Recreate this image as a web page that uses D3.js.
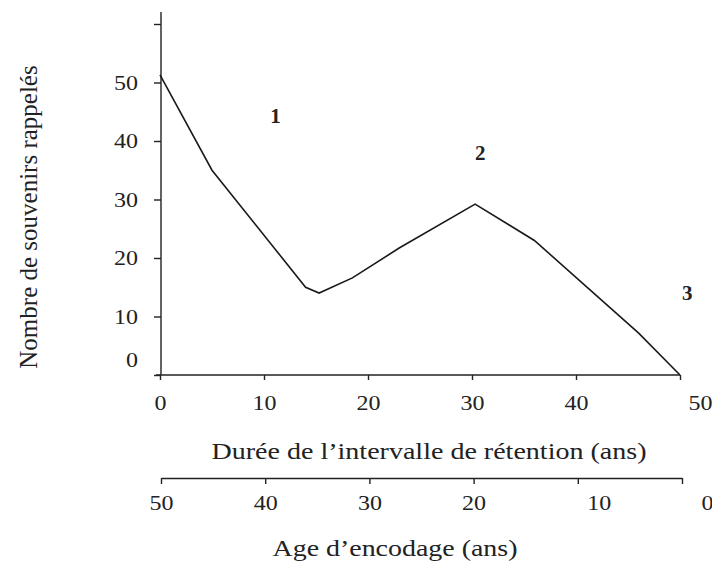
<!DOCTYPE html>
<html lang="fr">

<head>
    <meta charset="UTF-8">
    <title>Souvenirs rappelés</title>
    <script src="https://cdn.jsdelivr.net/npm/d3@7"></script>
    <style>
        body {
            margin: 0;
            background: #fff;
        }

        svg {
            display: block;
            font-family: "Liberation Serif", "DejaVu Serif", serif;
        }

        .axis path,
        .axis line {
            stroke: #222;
            stroke-width: 1.4px;
        }

        .axis text {
            font-family: "Liberation Serif", serif;
            font-size: 21px;
            fill: #222;
        }

        .line {
            fill: none;
            stroke: #1a1a1a;
            stroke-width: 1.6px;
        }
    </style>
</head>

<body>
    <script>
        // retention interval (years) and number of memories recalled
        const retention = [0, 5, 14, 15.3, 18.5, 23, 30.3, 36, 46, 50];
        const recalled = [51.3, 35, 15, 14, 16.6, 21.7, 29.2, 23, 7.2, 0];

        const yTicks = [0, 10, 20, 30, 40, 50, 60];
        const xTicks = [0, 10, 20, 30, 40, 50];
        const ageTicks = [50, 40, 30, 20, 10, 0];

        // period labels (in data units)
        const periodNames = ["1", "2", "3"];
        const periodX = [11.1, 30.8, 50.7];
        const periodY = [43.9, 37.6, 13.7];

        const width = 712, height = 563;

        const svg = d3.select("body")
            .append("svg")
            .attr("width", width)
            .attr("height", height);

        const xscale = d3.scaleLinear().domain([0, 50]).range([160, 680]);
        const yscale = d3.scaleLinear().domain([0, 60]).range([375, 24]);
        const agescale = d3.scaleLinear().domain([50, 0]).range([161, 682]);

        // the scan is a bit wider than tall, stretch the digits a little
        const widen = sel => sel.attr("textLength", d => String(d).length * 12)
            .attr("lengthAdjust", "spacingAndGlyphs");

        // y axis
        const gy = svg.append("g")
            .attr("class", "axis")
            .attr("transform", "translate(161,0)")
            .call(d3.axisLeft(yscale).tickValues(yTicks).tickSize(7).tickPadding(16)
                .tickFormat(d => d === 60 ? "" : d).tickSizeOuter(0));
        gy.select(".domain").attr("d", "M0,12V" + yscale(0));
        gy.selectAll(".tick text").filter(d => d !== 60).call(widen);
        gy.selectAll(".tick text").filter(d => d === 0).attr("dy", "-0.4em");

        // x axis (retention)
        const gx = svg.append("g")
            .attr("class", "axis")
            .attr("transform", `translate(0,${yscale(0)})`)
            .call(d3.axisBottom(xscale).tickValues(xTicks).tickSize(5).tickPadding(15).tickSizeOuter(0));
        gx.select(".domain").attr("d", `M156,0H${xscale(50)}`);
        gx.selectAll(".tick text").call(widen);
        gx.selectAll(".tick text").filter(d => d === 50).attr("dx", "20");

        // second axis (age at encoding)
        const ga = svg.append("g")
            .attr("class", "axis")
            .attr("transform", "translate(0,478)")
            .call(d3.axisBottom(agescale).tickValues(ageTicks).tickSize(6).tickPadding(11).tickSizeOuter(0));
        ga.selectAll(".tick text").call(widen);
        ga.selectAll(".tick text").filter(d => d === 0).attr("dx", "25");
        ga.selectAll(".tick text").filter(d => d === 10).attr("dx", "21");

        // curve
        const line = d3.line()
            .x((d, i) => xscale(retention[i]))
            .y(d => yscale(d));

        svg.append("path")
            .datum(recalled)
            .attr("class", "line")
            .attr("d", line);

        // period labels
        svg.selectAll(".period")
            .data(periodNames)
            .enter()
            .append("text")
            .attr("class", "period")
            .attr("x", (d, i) => xscale(periodX[i]))
            .attr("y", (d, i) => yscale(periodY[i]))
            .attr("text-anchor", "middle")
            .attr("dominant-baseline", "middle")
            .style("font-size", "21px")
            .style("font-weight", "bold")
            .style("fill", "#222")
            .text(d => d);

        // axis titles
        svg.append("text")
            .attr("transform", "translate(31,217) rotate(-90)")
            .attr("text-anchor", "middle")
            .attr("dominant-baseline", "middle")
            .style("font-size", "25px")
            .style("fill", "#222")
            .text("Nombre de souvenirs rappelés");

        svg.append("text")
            .attr("x", 429)
            .attr("y", 459)
            .attr("text-anchor", "middle")
            .attr("textLength", 435)
            .attr("lengthAdjust", "spacingAndGlyphs")
            .style("font-size", "23px")
            .style("fill", "#222")
            .text("Durée de l’intervalle de rétention (ans)");

        svg.append("text")
            .attr("x", 395)
            .attr("y", 556)
            .attr("text-anchor", "middle")
            .attr("textLength", 245)
            .attr("lengthAdjust", "spacingAndGlyphs")
            .style("font-size", "23px")
            .style("fill", "#222")
            .text("Age d’encodage (ans)");
    </script>
</body>

</html>
